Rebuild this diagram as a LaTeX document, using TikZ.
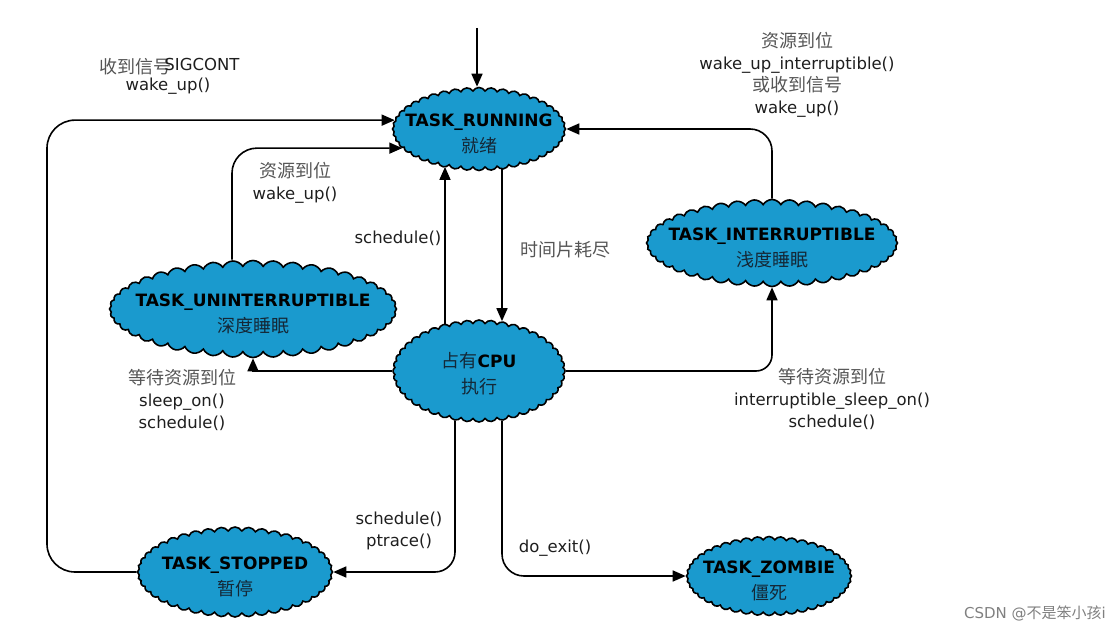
\documentclass[tikz,border=0pt]{standalone}
\usepackage{fontspec}
\setmainfont{DejaVu Sans}
\newfontfamily\cjkfont{Noto Sans CJK SC}
\usetikzlibrary{shapes.symbols,arrows.meta}
\definecolor{cloudblue}{RGB}{26,154,206}
\definecolor{zhgray}{RGB}{85,85,85}
\definecolor{txt}{RGB}{30,30,30}
\definecolor{zhdark}{RGB}{20,40,55}
\newcommand\zh[1]{{\cjkfont\color{zhgray}\fontsize{18}{22}\selectfont #1}}
\newcommand\zhc[1]{{\cjkfont\mdseries\color{zhdark}\fontsize{18}{26}\selectfont #1}}
\tikzset{
  state/.style={cloud, cloud puffs=44, cloud puff arc=120, cloud ignores aspect,
    draw=black, line width=1.6pt, fill=cloudblue, inner sep=0pt},
  st/.style={align=center, text=black, inner sep=0pt, yshift=-5pt,
    font=\bfseries\fontsize{17}{26}\selectfont},
  arr/.style={-{Triangle[length=13pt,width=11pt]}, line width=1.6pt},
  lbl/.style={align=center, text=txt, font=\fontsize{16.5}{22}\selectfont, inner sep=0pt},
}
\begin{document}
\begin{tikzpicture}[x=1pt,y=-1pt]
\useasboundingbox (0,0) rectangle (1105,634);
% states
\node[state, minimum width=173pt, minimum height=83pt,
  label={[st]center:{TASK\_RUNNING\\\zhc{就绪}}}] (running) at (479,129) {};
\node[state, minimum width=287pt, minimum height=97pt,
  label={[st]center:{TASK\_UNINTERRUPTIBLE\\\zhc{深度睡眠}}}] (unint) at (253,309) {};
\node[state, minimum width=172pt, minimum height=102pt,
  label={[st,yshift=2pt]center:{\zhc{占有}CPU\\\zhc{执行}}}] (cpu) at (479,371) {};
\node[state, minimum width=251pt, minimum height=87pt,
  label={[st]center:{TASK\_INTERRUPTIBLE\\\zhc{浅度睡眠}}}] (inter) at (772,243) {};
\node[state, minimum width=195pt, minimum height=90pt,
  label={[st]center:{TASK\_STOPPED\\\zhc{暂停}}}] (stopped) at (235,572) {};
\node[state, minimum width=165pt, minimum height=79pt,
  label={[st]center:{TASK\_ZOMBIE\\\zhc{僵死}}}] (zombie) at (769,576) {};
% helper coordinates
\coordinate (start) at (477,28);
\coordinate (outer) at (47,0);
\coordinate (inner) at (232,0);
\coordinate (sx) at (445,0);
\coordinate (dx) at (502,0);
\coordinate (px) at (455,0);
% connectors
\draw[arr] (start) -- (start |- running.north);
\draw[arr, rounded corners=28pt] (stopped.west) -| (outer |- running.174) -- (running.174);
\draw[arr, rounded corners=25pt] (inner |- unint.north) |- (running.194);
\draw[arr] (sx |- cpu.126) -- (sx |- running.225);
\draw[arr] (dx |- running.303) -- (dx |- cpu.65);
\draw[arr] (cpu.west) -| (unint.south);
\draw[arr, rounded corners=16pt] (cpu.east) -| (inter.south);
\draw[arr, rounded corners=22pt] (inter.north) |- (running.east);
\draw[arr, rounded corners=20pt] (px |- cpu.243) |- (stopped.east);
\draw[arr, rounded corners=22pt] (dx |- cpu.296) |- (zombie.west);
% labels
\node[lbl] (l1a) at (135,67) {\zh{收到信号}};
\node[lbl] (l1b) at (202,64) {SIGCONT};
\node[lbl] (l1c) at (168,86) {wake\_up()};
\node[lbl] (l2) at (295,183) {\zh{资源到位}\\wake\_up()};
\node[lbl] (l3) at (398,238) {schedule()};
\node[lbl] (l4) at (565,250) {\zh{时间片耗尽}};
\node[lbl] (l5) at (797,75) {\zh{资源到位}\\wake\_up\_interruptible()\\\zh{或收到信号}\\wake\_up()};
\node[lbl] (l6) at (182,400) {\zh{等待资源到位}\\sleep\_on()\\schedule()};
\node[lbl] (l7) at (832,399) {\zh{等待资源到位}\\interruptible\_sleep\_on()\\schedule()};
\node[lbl] (l8) at (399,531) {schedule()\\ptrace()};
\node[lbl] (l9) at (555,548) {do\_exit()};
\node[lbl, text=gray, font=\fontsize{15}{18}\selectfont] (wm) at (1035,613) {CSDN @{\cjkfont 不是笨小孩}i};
\end{tikzpicture}
\end{document}
